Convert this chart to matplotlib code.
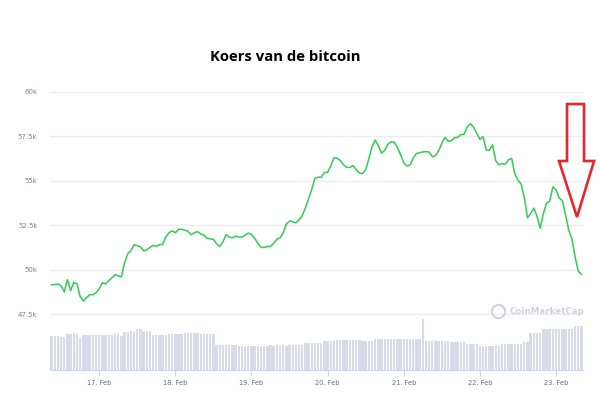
import numpy as np
import pandas as pd
import matplotlib
matplotlib.use("Agg")
import matplotlib.pyplot as plt
import matplotlib.dates as mdates
from matplotlib.lines import Line2D
from matplotlib.patches import Polygon

# hourly bitcoin price (USD), 16 Feb 09:00 -> 23 Feb 08:00
start = "2021-02-16 09:00"
prices = [
    49160, 49170, 49200, 49100, 48760, 49450, 48830, 49290, 49210, 48500,
    48250, 48430, 48600, 48600, 48710, 48930, 49270, 49210, 49380, 49550,
    49720, 49660, 49610, 50390, 50900, 51070, 51410, 51350, 51290, 51070,
    51120, 51260, 51370, 51320, 51410, 51430, 51850, 52080, 52190, 52080,
    52280, 52280, 52220, 52160, 51970, 52080, 52150, 52020, 51940, 51770,
    51740, 51710, 51460, 51310, 51570, 51970, 51830, 51800, 51880, 51850,
    51830, 51940, 52060, 51990, 51770, 51500, 51260, 51260, 51310, 51310,
    51490, 51710, 51800, 52080, 52580, 52740, 52700, 52640, 52810, 53030,
    53480, 53990, 54520, 55140, 55200, 55200, 55470, 55480, 55840, 56300,
    56260, 56140, 55900, 55760, 55740, 55860, 55630, 55440, 55400, 55620,
    56240, 56910, 57290, 56970, 56550, 56710, 57050, 57200, 57160, 56880,
    56460, 56010, 55830, 55880, 56290, 56530, 56580, 56620, 56640, 56610,
    56350, 56410, 56690, 57110, 57440, 57220, 57250, 57420, 57440, 57600,
    57610, 58030, 58210, 58010, 57670, 57330, 57470, 56740, 56710, 57020,
    56120, 55900, 55960, 55930, 56180, 56260, 55390, 55030, 54830, 54050,
    52920, 53150, 53460, 53020, 52330, 53150, 53740, 53850, 54660, 54490,
    54020, 53890, 53090, 52220, 51740, 50730, 49920, 49750,
]
# hourly volume (relative units)
volumes = [
    34, 34, 34, 33, 33, 36, 36, 37, 36, 32,
    35, 35, 35, 35, 35, 35, 35, 35, 35, 35,
    36, 36, 34, 38, 38, 39, 38, 41, 41, 39,
    39, 39, 35, 35, 35, 35, 35, 36, 36, 36,
    36, 36, 37, 37, 37, 37, 37, 36, 36, 36,
    36, 36, 25, 25, 25, 25, 25, 25, 25, 24,
    24, 24, 24, 24, 24, 24, 24, 24, 24, 25,
    24, 25, 24, 25, 24, 25, 25, 25, 25, 25,
    27, 27, 27, 27, 27, 27, 29, 29, 29, 30,
    30, 30, 30, 30, 30, 30, 30, 30, 29, 29,
    29, 29, 31, 31, 31, 31, 31, 31, 31, 31,
    31, 31, 31, 31, 31, 31, 31, 51, 29, 29,
    29, 29, 29, 29, 29, 29, 28, 28, 28, 28,
    28, 26, 26, 26, 26, 24, 24, 24, 24, 24,
    24, 24, 26, 26, 26, 26, 26, 26, 26, 28,
    28, 37, 37, 37, 37, 41, 41, 41, 41, 41,
    41, 41, 41, 41, 41, 44, 44, 44,
]
yticks = [47500, 50000, 52500, 55000, 57500, 60000]
ylabels = ["47.5k", "50k", "52.5k", "55k", "57.5k", "60k"]

times = pd.date_range(start, periods=len(prices), freq="h")
hour = pd.Timedelta(hours=1)
W, H = 600, 394

fig = plt.figure(figsize=(6, 3.94), dpi=100)
pos = [50 / W, 24 / H, 533 / W, 285 / H]

# volume bars (bottom layer)
ax_vol = fig.add_axes(pos)
ax_vol.bar(times, volumes, width=0.75 / 24, color="#d7dbe9", linewidth=0)
ax_vol.set_ylim(0, 285)
ax_vol.set_xlim(times[0] - hour / 2, times[-1] + hour / 2)
ax_vol.set_yticks([])
for s in ["top", "left", "right"]:
    ax_vol.spines[s].set_visible(False)
ax_vol.spines["bottom"].set_color("#ccd6eb")
ax_vol.xaxis.set_major_locator(mdates.DayLocator())
ax_vol.xaxis.set_major_formatter(mdates.DateFormatter("%d. %b"))
ax_vol.tick_params(axis="x", colors="#ccd6eb", length=4, width=0.8, labelsize=4.8,
                   labelcolor="#666e7d", pad=3)

# price line
ax = fig.add_axes(pos, sharex=ax_vol)
ax.patch.set_alpha(0)
ax.plot(times, prices, color="#3acb5c", linewidth=1.15)
ax.set_ylim(44370, 60380)
ax.set_yticks(yticks)
ax.set_yticklabels(ylabels)
ax.grid(axis="y", color="#ededed", linewidth=0.9)
ax.tick_params(axis="y", length=0, labelsize=5.0, labelcolor="#7d8696", pad=9)
ax.tick_params(axis="x", bottom=False, labelbottom=False)
for s in ax.spines.values():
    s.set_visible(False)

# title
fig.text(285 / W, 1 - 57 / H, "Koers van de bitcoin", ha="center", va="center",
         fontsize=10.7, fontweight="bold", family="Open Sans")

# watermark
wm = "#cdd3df"
fig.add_artist(Line2D([497.7 / W], [1 - 311 / H], marker="o", markersize=9.5,
                      markerfacecolor="none", markeredgecolor=wm, markeredgewidth=1.5,
                      transform=fig.transFigure))
fig.text(510 / W, 1 - 311 / H, "CoinMarketCap", ha="left", va="center",
         fontsize=6.3, fontweight="bold", color=wm)

# red arrow
arrow_px = [(567, 104), (584, 104), (584, 161), (594, 161), (577, 217), (559, 161), (567, 161)]
arrow = Polygon([(x / W, 1 - y / H) for x, y in arrow_px], closed=True, fill=False,
                edgecolor="#e8262c", linewidth=1.9, joinstyle="miter",
                transform=fig.transFigure)
fig.add_artist(arrow)

plt.savefig("out.png", dpi=100)
